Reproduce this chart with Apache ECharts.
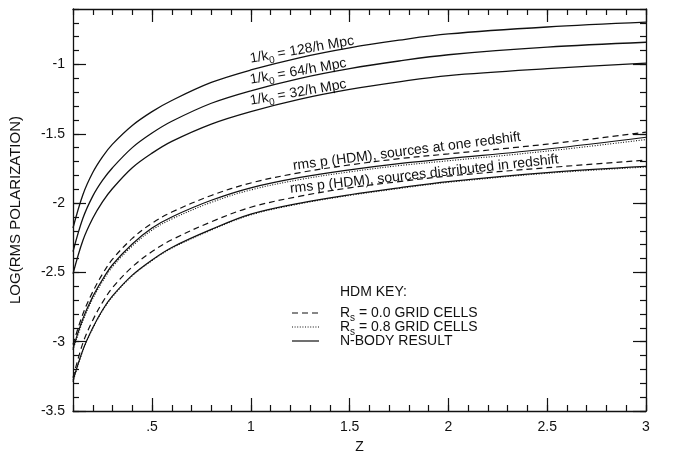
<!DOCTYPE html>
<html>
<head>
<meta charset="utf-8">
<script src="https://cdn.jsdelivr.net/npm/echarts@6/dist/echarts.min.js"></script>
<style>
html,body{margin:0;padding:0;background:#fff;}
#chart{width:673px;height:459px;}
</style>
</head>
<body>
<div id="chart"></div>
<script>
// redshift samples, shared by every curve
const zValues = [0.1, 0.15, 0.2, 0.25, 0.3, 0.4, 0.5, 0.6, 0.8, 1.0, 1.25, 1.5, 1.75, 2.0, 2.5, 3.0];

// N-body result for three box sizes 1/k0
const nbody128 = [-2.18, -1.94, -1.78, -1.665, -1.575, -1.44, -1.34, -1.26, -1.13, -1.04, -0.95, -0.88, -0.825, -0.78, -0.73, -0.695];
const nbody64  = [-2.35, -2.11, -1.95, -1.835, -1.745, -1.60, -1.495, -1.41, -1.28, -1.19, -1.10, -1.03, -0.975, -0.93, -0.875, -0.84];
const nbody32  = [-2.51, -2.27, -2.11, -1.99, -1.895, -1.745, -1.64, -1.555, -1.43, -1.34, -1.25, -1.18, -1.125, -1.08, -1.03, -0.99];

// HDM, sources at one redshift
const oneZ_rs00  = [-3.02, -2.80, -2.64, -2.51, -2.405, -2.255, -2.145, -2.065, -1.945, -1.855, -1.78, -1.725, -1.68, -1.645, -1.575, -1.488];
const oneZ_rs08  = [-3.06, -2.85, -2.69, -2.565, -2.46, -2.31, -2.195, -2.115, -1.995, -1.905, -1.83, -1.775, -1.73, -1.695, -1.625, -1.542];
const oneZ_nbody = [-3.05, -2.835, -2.675, -2.55, -2.445, -2.295, -2.18, -2.10, -1.98, -1.89, -1.815, -1.76, -1.715, -1.68, -1.61, -1.525];

// HDM, sources distributed in redshift
const distZ_rs00  = [-3.26, -3.01, -2.845, -2.715, -2.61, -2.46, -2.35, -2.265, -2.135, -2.03, -1.95, -1.89, -1.845, -1.805, -1.745, -1.69];
const distZ_rs08  = [-3.29, -3.065, -2.905, -2.775, -2.675, -2.525, -2.415, -2.325, -2.195, -2.085, -2.005, -1.945, -1.895, -1.85, -1.785, -1.74];
const distZ_nbody = [-3.28, -3.06, -2.90, -2.77, -2.67, -2.52, -2.41, -2.32, -2.19, -2.08, -2.00, -1.94, -1.89, -1.845, -1.78, -1.736];

const xTickLabels = [0.5, 1, 1.5, 2, 2.5, 3];
const yTickLabels = [-3.5, -3, -2.5, -2, -1.5, -1];

const ink = '#111';
const font = 'Liberation Sans, Arial, Helvetica, sans-serif';
const dashed = [6, 4];
const dotted = [1, 1.6];

function curve(name, values, type, width) {
  return {
    name: name,
    type: 'line',
    data: zValues.map((z, i) => [z, values[i]]),
    symbol: 'none',
    smooth: 0.35,
    silent: true,
    lineStyle: { color: ink, width: width, type: type }
  };
}

// minor ticks every 0.1, major ticks drawn by a twin axis
function minorAxis(pos, min, max) {
  return {
    type: 'value', position: pos, min: min, max: max, interval: 0.1,
    axisLine: { show: true, onZero: false, lineStyle: { color: ink, width: 1.3 } },
    axisTick: { show: true, inside: true, length: 6, lineStyle: { color: ink, width: 1.2 } },
    axisLabel: { show: false },
    splitLine: { show: false }
  };
}
function majorAxis(pos, min, max, values) {
  return {
    type: 'value', position: pos, min: min, max: max, interval: 0.1,
    axisLine: { show: false, onZero: false },
    axisTick: { show: true, inside: true, length: 13, customValues: values, lineStyle: { color: ink, width: 1.2 } },
    axisLabel: { show: false },
    splitLine: { show: false }
  };
}

const xBottom = minorAxis('bottom', 0.1, 3);
xBottom.axisLabel = {
  show: true, customValues: xTickLabels, margin: 9,
  color: ink, fontFamily: font, fontSize: 14,
  formatter: v => (v === 0.5 ? '.5' : String(v))
};
xBottom.name = 'Z';
xBottom.nameLocation = 'middle';
xBottom.nameGap = 29;
xBottom.nameTextStyle = { color: ink, fontFamily: font, fontSize: 14 };

const yLeft = minorAxis('left', -3.5, -0.6);
yLeft.axisLabel = {
  show: true, customValues: yTickLabels, margin: 8,
  color: ink, fontFamily: font, fontSize: 14,
  formatter: v => String(v)
};
yLeft.name = 'LOG(RMS POLARIZATION)';
yLeft.nameLocation = 'middle';
yLeft.nameGap = 50;
yLeft.nameTextStyle = { color: ink, fontFamily: font, fontSize: 15 };

// text placed by its baseline start point
function rich(x, base, deg, text, size) {
  return {
    type: 'text', x: x, y: base - 5, rotation: deg * Math.PI / 180, silent: true,
    style: {
      text: text, align: 'left', verticalAlign: 'middle', fill: ink,
      rich: {
        m: { fontFamily: font, fontSize: size, fill: ink },
        s: { fontFamily: font, fontSize: size - 4, padding: [10, 0, 0, 0], fill: ink }
      }
    }
  };
}
function plain(x, base, deg, text, size) {
  return {
    type: 'text', x: x, y: base - 5, rotation: deg * Math.PI / 180, silent: true,
    style: { text: text, align: 'left', verticalAlign: 'middle', fill: ink, font: size + 'px ' + font }
  };
}
function sample(y, dash, width) {
  return {
    type: 'line', silent: true,
    shape: { x1: 292, y1: y, x2: 319, y2: y },
    style: { stroke: ink, lineWidth: width, lineDash: dash }
  };
}

const chart = echarts.init(document.getElementById('chart'), null, { renderer: 'canvas' });

chart.setOption({
  animation: false,
  backgroundColor: '#fff',
  grid: { left: 72, right: 27, top: 9, bottom: 41, containLabel: false },
  xAxis: [
    xBottom,
    majorAxis('bottom', 0.1, 3, xTickLabels),
    minorAxis('top', 0.1, 3),
    majorAxis('top', 0.1, 3, xTickLabels)
  ],
  yAxis: [
    yLeft,
    majorAxis('left', -3.5, -0.6, yTickLabels),
    minorAxis('right', -3.5, -0.6),
    majorAxis('right', -3.5, -0.6, yTickLabels)
  ],
  series: [
    curve('1/k0 = 128/h Mpc', nbody128, 'solid', 1.3),
    curve('1/k0 = 64/h Mpc', nbody64, 'solid', 1.3),
    curve('1/k0 = 32/h Mpc', nbody32, 'solid', 1.3),
    curve('one redshift, Rs = 0.0', oneZ_rs00, dashed, 1.2),
    curve('one redshift, Rs = 0.8', oneZ_rs08, dotted, 1.1),
    curve('one redshift, N-body', oneZ_nbody, 'solid', 1.2),
    curve('distributed, Rs = 0.0', distZ_rs00, dashed, 1.2),
    curve('distributed, Rs = 0.8', distZ_rs08, dotted, 1.1),
    curve('distributed, N-body', distZ_nbody, 'solid', 1.2)
  ],
  graphic: [
    rich(250, 64, 10, '{m|1/k}{s|0}{m| = 128/h Mpc}', 14),
    rich(250, 85, 10, '{m|1/k}{s|0}{m| = 64/h Mpc}', 14),
    rich(250, 106, 10, '{m|1/k}{s|0}{m| = 32/h Mpc}', 14),
    plain(293, 171, 7.3, 'rms p (HDM), sources at one redshift', 14),
    plain(290, 194, 6.3, 'rms p (HDM), sources distributed in redshift', 14),
    plain(340, 297, 0, 'HDM KEY:', 14),
    sample(313, dashed, 1.2),
    sample(327, dotted, 1.1),
    sample(341, null, 1.2),
    rich(340, 318, 0, '{m|R}{s|s}{m| = 0.0 GRID CELLS}', 14),
    rich(340, 332, 0, '{m|R}{s|s}{m| = 0.8 GRID CELLS}', 14),
    plain(340, 346, 0, 'N-BODY RESULT', 14)
  ]
});
</script>
</body>
</html>
